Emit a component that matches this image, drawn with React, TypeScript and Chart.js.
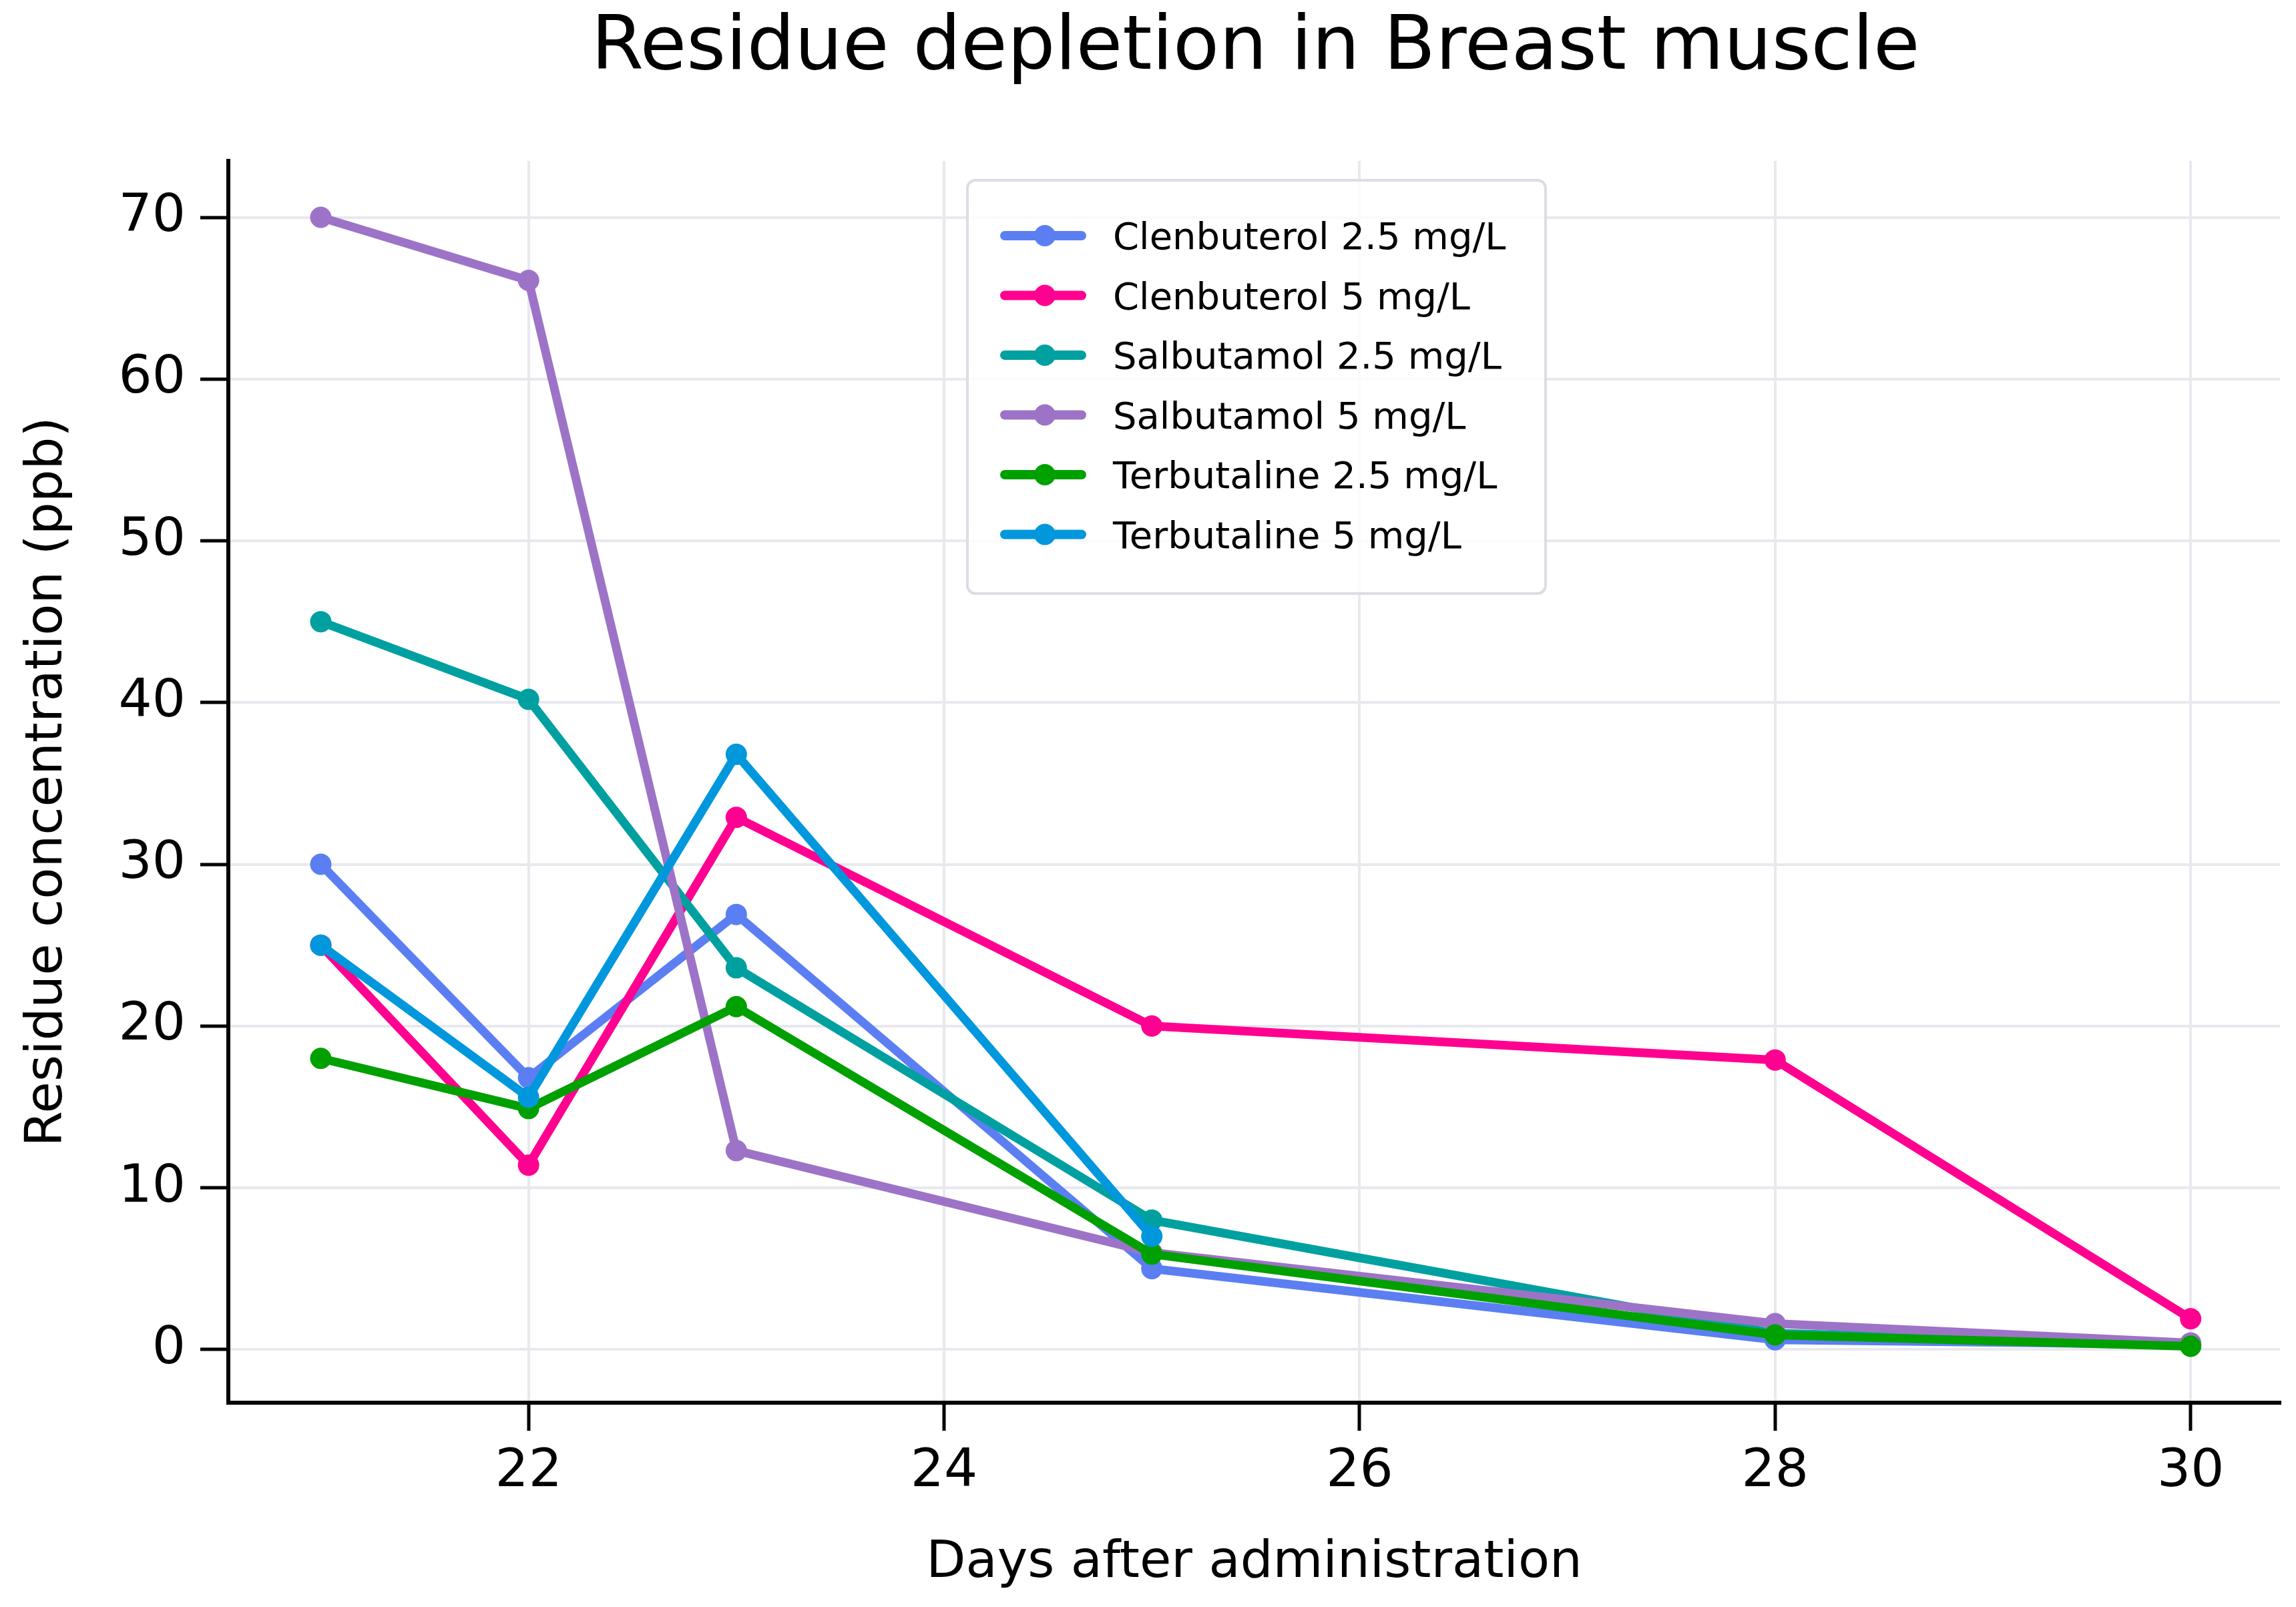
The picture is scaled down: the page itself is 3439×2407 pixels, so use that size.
import React, { useEffect, useRef } from "react";
import { Chart, registerables } from "chart.js";

Chart.register(...registerables);

// ---- data ----
const days = [21, 22, 23, 25, 28, 30];
const seriesLabels = [
  "Clenbuterol 2.5 mg/L",
  "Clenbuterol 5 mg/L",
  "Salbutamol 2.5 mg/L",
  "Salbutamol 5 mg/L",
  "Terbutaline 2.5 mg/L",
  "Terbutaline 5 mg/L",
];
const clenbuterol25 = [30, 16.8, 26.9, 5.0, 0.6, 0.3];
const clenbuterol5 = [25, 11.4, 32.9, 20.0, 17.9, 1.9];
const salbutamol25 = [45, 40.2, 23.6, 8.0, 1.0, 0.3];
const salbutamol5 = [70, 66.1, 12.3, 6.0, 1.6, 0.4];
const terbutaline25 = [18, 14.9, 21.2, 5.9, 0.9, 0.2];
const terbutaline5: (number | null)[] = [25, 15.6, 36.8, 7.0, null, null];
const seriesValues = [clenbuterol25, clenbuterol5, salbutamol25, salbutamol5, terbutaline25, terbutaline5];
const xTickValues = [22, 24, 26, 28, 30];
const yTickValues = [0, 10, 20, 30, 40, 50, 60, 70];
const titleText = "Residue depletion in Breast muscle";
const xTitle = "Days after administration";
const yTitle = "Residue concentration (ppb)";

// ---- styles ----
const colors = ["#5b7ff2", "#ff0090", "#00a0a0", "#9d73c7", "#00a000", "#0097dd"];
const W = 3439;
const H = 2407;
const AREA = { left: 342, top: 241, right: 3415, bottom: 2101 };
const FONT = "'DejaVu Sans', 'Noto Sans', sans-serif";

const overlayPlugin = {
  id: "overlay",
  afterDraw(chart: any) {
    const ctx = chart.ctx as CanvasRenderingContext2D;
    const ca = chart.chartArea;
    ctx.save();
    // title
    ctx.fillStyle = "#000";
    ctx.font = `113px ${FONT}`;
    ctx.textAlign = "center";
    ctx.textBaseline = "alphabetic";
    ctx.fillText(titleText, (ca.left + ca.right) / 2 + 2, 103);

    // legend
    const bx = 1449, by = 270, bw = 866, bh = 619, r = 12;
    ctx.beginPath();
    ctx.moveTo(bx + r, by);
    ctx.arcTo(bx + bw, by, bx + bw, by + bh, r);
    ctx.arcTo(bx + bw, by + bh, bx, by + bh, r);
    ctx.arcTo(bx, by + bh, bx, by, r);
    ctx.arcTo(bx, by, bx + bw, by, r);
    ctx.closePath();
    ctx.fillStyle = "rgba(255,255,255,0.8)";
    ctx.fill();
    ctx.strokeStyle = "#dcdde4";
    ctx.lineWidth = 4;
    ctx.stroke();

    ctx.font = `56px ${FONT}`;
    ctx.textAlign = "left";
    ctx.textBaseline = "alphabetic";
    seriesLabels.forEach((label, i) => {
      const y = 353 + i * 89.5;
      ctx.strokeStyle = colors[i];
      ctx.lineWidth = 14;
      ctx.lineCap = "round";
      ctx.beginPath();
      ctx.moveTo(1505, y);
      ctx.lineTo(1620, y);
      ctx.stroke();
      ctx.fillStyle = colors[i];
      ctx.beginPath();
      ctx.arc(1565, y, 16, 0, Math.PI * 2);
      ctx.fill();
      ctx.fillStyle = "#000";
      ctx.fillText(label, 1667, y + 20);
    });
    ctx.restore();
  },
};

export default function App() {
  const canvasRef = useRef<HTMLCanvasElement | null>(null);

  useEffect(() => {
    if (!canvasRef.current) return;
    const datasets = seriesLabels.map((label, i) => ({
      label,
      data: days
        .map((d, j) => ({ x: d, y: seriesValues[i][j] }))
        .filter((p) => p.y !== null && p.y !== undefined),
      borderColor: colors[i],
      backgroundColor: colors[i],
      pointBackgroundColor: colors[i],
      pointBorderWidth: 0,
      pointRadius: 16,
      borderWidth: 13,
      borderJoinStyle: "round" as const,
      tension: 0,
      order: seriesLabels.length - i,
    }));

    const chart = new Chart(canvasRef.current, {
      type: "line",
      data: { datasets },
      plugins: [overlayPlugin],
      options: {
        animation: false,
        responsive: false,
        devicePixelRatio: 1,
        layout: { padding: { left: 0, top: AREA.top, right: W - AREA.right, bottom: 0 } },
        plugins: {
          legend: { display: false },
          title: { display: false },
          tooltip: { enabled: false },
        },
        scales: {
          x: {
            type: "linear",
            min: 20.555,
            max: 30.43,
            afterBuildTicks: (s: any) => {
              s.ticks = xTickValues.map((v) => ({ value: v }));
            },
            afterFit: (s: any) => {
              s.height = H - AREA.bottom;
            },
            grid: {
              color: "#e8e8ef",
              lineWidth: 4,
              tickColor: "#000",
              tickWidth: 5,
              tickLength: 42,
            },
            border: { color: "#000", width: 6 },
            ticks: {
              font: { family: FONT, size: 79 },
              color: "#000",
              padding: 15,
              maxRotation: 0,
              autoSkip: false,
            },
            title: {
              display: true,
              text: xTitle,
              font: { family: FONT, size: 77 },
              color: "#000",
              padding: { top: 0, bottom: 19 },
            },
          },
          y: {
            type: "linear",
            min: -3.29,
            max: 73.49,
            afterBuildTicks: (s: any) => {
              s.ticks = yTickValues.map((v) => ({ value: v }));
            },
            afterFit: (s: any) => {
              s.width = AREA.left;
            },
            grid: {
              color: "#e8e8ef",
              lineWidth: 4,
              tickColor: "#000",
              tickWidth: 5,
              tickLength: 42,
            },
            border: { color: "#000", width: 6 },
            ticks: {
              font: { family: FONT, size: 79 },
              color: "#000",
              padding: 22,
              autoSkip: false,
            },
            title: {
              display: true,
              text: yTitle,
              font: { family: FONT, size: 77 },
              color: "#000",
              padding: { top: 26, bottom: 0 },
            },
          },
        },
      },
    });
    return () => chart.destroy();
  }, []);

  return (
    <div style={{ position: "fixed", left: 0, top: 0, width: W, height: H, background: "#fff" }}>
      <canvas ref={canvasRef} width={W} height={H} style={{ width: W, height: H, display: "block" }} />
    </div>
  );
}
